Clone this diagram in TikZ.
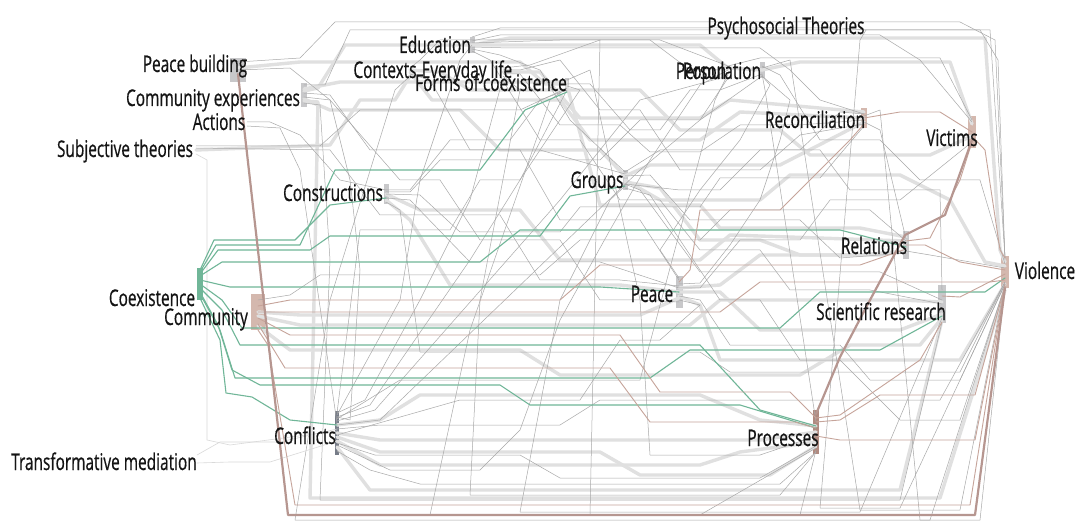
\documentclass[tikz,border=0pt]{standalone}
\usepackage{fontspec}
\setmainfont{Open Sans}
\newfontfamily\lblfont{Open Sans}[FakeBold=0.7]
\definecolor{grn}{RGB}{112,182,152}
\definecolor{brn}{RGB}{198,164,154}
\definecolor{brd}{RGB}{182,150,144}
\definecolor{barg}{RGB}{200,200,202}
\definecolor{barb}{RGB}{212,184,174}
\definecolor{bard}{RGB}{118,124,136}
\definecolor{barp}{RGB}{176,138,128}

\begin{document}
\begin{tikzpicture}[x=1pt,y=-1pt,line cap=round,line join=round,
  lbl/.style={font=\lblfont\fontsize{23}{23}\selectfont,text=black!92,anchor=base,inner sep=0pt,xscale=0.67},
  bar/.style={draw=none,inner sep=0pt},
  band/.style={draw=black!12,line width=3.4pt},
  wire/.style={draw=black!34,line width=0.5pt},
  faint/.style={draw=black!15,line width=0.6pt},
  gwire/.style={draw=grn,line width=1.1pt},
  bwire/.style={draw=brn,line width=0.9pt},
  bband/.style={draw=brd,line width=2.2pt}]
  \fill[white] (0,0) rectangle (1076,529);
  \useasboundingbox (0,0) rectangle (1076,529);
  % 端口条
  \foreach \nm/\x/\y/\w/\h/\cl in {pb/238/70/16/24/barg, cexp/304/95/6/24/barg, act/247/122/2/4/none,
    subj/196/150/2/4/none, constr/386/194/5/20/barg, edu/472/45/5/16/barg, ctx/410/72/2/4/none,
    ev/503/72/2/4/none, forms/567/84/4/12/barg, person/728/70/2/4/none, popu/762/70/5/16/barg,
    psych/866/30/2/4/none, groups/625/180/5/20/barg, recon/864/118/6/20/barb, vict/972/132/8/32/barb,
    rel/906/245/6/28/barg, viol/1005/272/8/32/barb, coex/200/284/6/32/grn, comm/258/312/14/36/barb,
    peace/679/292/7/32/barg, sci/942/304/8/38/barg, confl/337/433/4/44/bard, proc/816/432/6/44/barp,
    trans/197/463/2/4/none}
    \node[bar,fill=\cl,minimum width=\w,minimum height=\h] (\nm) at (\x,\y) {};
  % 灰色宽带
  \foreach \fr/\fo/\via/\dn/\dno in {cexp/4/{318/88,345/45,700/45,728/68}/popu/0,
    pb/2/{300/62,520/62,545/84}/forms/0, edu/0/{510/38,985/38,1000/250}/viol/10,
    ctx/0/{432/100,560/100,590/140,700/140,740/112}/recon/0, cexp/-4/{330/110,460/110,500/150,600/150}/groups/4,
    groups/0/{660/200,760/200,790/175,900/175,950/200,985/262}/viol/6,
    constr/0/{420/210,520/210,560/260,700/260,730/235}/rel/4, confl/0/{380/440,760/440}/proc/0,
    confl/-8/{380/465,700/465,740/452}/proc/-10, subj/0/{330/145,360/100,395/100}/ctx/-4,
    comm/0/{300/315,640/315}/peace/-6, peace/0/{720/292,760/330,900/330}/sci/-10,
    popu/0/{800/62,950/62}/vict/8, confl/-14/{370/490,900/490}/sci/-16, groups/4/{650/165,780/165}/recon/-4,
    forms/-2/{600/205,700/205,720/228,860/228}/rel/8, peace/-4/{700/305,720/360,960/360}/viol/-12,
    ev/0/{540/72,580/118,700/118,730/100}/recon/6,
    ctx/2/{440/72,470/90,640/90,680/130,780/130,810/155,930/155}/vict/-4,
    groups/-2/{660/188,700/240,760/240,800/255,880/255}/rel/-6,
    comm/-4/{300/325,690/325,720/300,900/300}/sci/2, confl/8/{380/420,420/395,700/395,760/420}/proc/6,
    cexp/6/{340/82,540/82}/forms/2, comm/-14/{290/350,520/350,560/375,800/375,850/345,920/345}/sci/-14,
    peace/4/{720/285,760/255,860/255}/rel/-6, confl/-4/{380/452,600/452,640/475,770/475}/proc/-14,
    constr/-6/{410/220,450/285,620/285}/peace/0, cexp/-6/{318/102,310/498,940/498}/viol/-18}
    {\draw[band] ([yshift=\fo]\fr.center) \foreach \px/\py in \via {-- (\px,\py)} -- ([yshift=\dno]\dn.center);}
  % 细线
  \foreach \fr/\fo/\via/\dn/\dno in {pb/8/{300/58,335/22,960/22,995/40}/viol/14,
    cexp/10/{325/85,350/30,980/30,998/60}/viol/12, edu/4/{500/35,880/35,920/60}/vict/10,
    edu/-2/{510/48,760/48,790/70,820/100}/recon/4, ctx/4/{420/60,440/40,650/40,690/70}/person/0,
    ev/-2/{520/74,560/125,620/125,650/152,700/152,740/125,800/125}/recon/-2,
    forms/0/{590/84,630/130,660/130,690/90,720/90}/popu/-4, cexp/2/{330/95,370/150,540/150}/groups/6,
    subj/4/{320/146,360/110,520/110}/forms/-4, act/0/{270/122,300/135,340/180}/constr/4,
    constr/4/{410/190,450/140,510/140,540/100}/forms/-6, constr/-4/{410/200,470/262,600/262}/peace/4,
    groups/4/{650/175,690/220,800/220,840/258}/rel/-8, groups/-4/{640/190,700/272,880/272}/sci/4,
    peace/4/{700/288,740/240,800/240,830/200,900/200}/vict/-10,
    peace/-4/{700/300,730/345,840/345,870/380,960/380}/viol/-12,
    popu/4/{780/75,820/140,880/140,920/180,980/180}/viol/8, popu/-4/{765/90}/proc/10,
    person/-4/{715/100,640/380,400/380}/confl/14, edu/0/{460/60,420/180,400/300}/confl/18,
    forms/-4/{550/100,470/330,430/515,800/515}/proc/-18, ctx/-4/{395/90,330/300,295/520,930/520}/viol/-14,
    groups/-6/{610/200,560/300,520/512,860/512}/sci/-14, edu/-4/{500/55,540/70,570/120}/groups/8,
    ev/4/{530/65,600/40,660/40}/person/4, confl/20/{365/400,420/300,470/200}/ev/-6,
    confl/16/{370/405,470/260,520/180}/forms/-6, confl/12/{375/410,560/200,640/100}/person/-6,
    confl/8/{380/420,640/170,700/120}/popu/-6, confl/4/{380/425,560/425,600/400,940/400}/viol/-10,
    confl/-10/{375/455,520/455,560/478,760/478}/proc/-14, confl/-18/{370/470,420/484,780/484}/proc/-20,
    comm/12/{290/295,320/275,540/275,580/240,700/240,730/210,870/210}/rel/4, act/-4/{280/128,300/170}/confl/10,
    peace/8/{700/283,730/245,760/200,780/140,790/100}/popu/-6, rel/-6/{930/255}/viol/4,
    recon/-4/{880/130}/rel/6, constr/0/{420/195,460/232,560/232,580/207,700/207,720/178,820/178}/recon/-8,
    cexp/-8/{320/105,330/260,320/500,900/500}/sci/-18, pb/0/{290/68,330/100,350/180,360/270,350/420}/confl/16,
    person/4/{760/58,940/58}/vict/12, groups/8/{660/150,820/150,850/190,940/190}/sci/14,
    edu/2/{560/40,600/40,590/515,700/515}/proc/-16, psych/0/{860/40,820/508,900/508}/viol/-12,
    popu/2/{790/60,860/510,960/510}/viol/-12, recon/2/{880/110,920/520,980/520}/viol/-14,
    edu/8/{500/28,840/28}/psych/0, psych/0/{990/30}/viol/14,
    constr/-8/{400/210,420/352,700/352,730/372,960/372}/viol/-10,
    forms/4/{590/70,640/300,650/455,760/455}/proc/-4, ev/-4/{520/90,480/300,470/495,780/495}/proc/-20,
    ctx/-2/{430/80,470/150,520/150,560/220,640/220}/peace/12,
    ev/2/{520/70,560/60,600/110,640/110,680/170,760/170,800/135}/recon/-6,
    forms/-2/{580/90,520/180,480/180,450/230,360/230}/confl/20,
    cexp/-2/{330/100,400/180,440/180,480/240,560/240,600/300,640/300}/peace/-10,
    constr/2/{410/192,440/160,600/160,640/120,700/120}/person/-8,
    peace/-8/{700/305,660/340,620/340,580/400,460/400}/confl/-2,
    subj/2/{330/150,380/215,500/215,540/280,620/280}/peace/6,
    groups/-8/{650/195,720/300,760/300,800/360,840/360,900/420,960/420}/viol/-14,
    edu/-6/{490/60,540/140,580/140,620/200,660/200,700/250,760/250,790/290,870/290}/sci/0,
    popu/-6/{770/85,740/140,700/190,660/250}/peace/14,
    person/0/{700/85,650/160,610/230,560/320,520/430,480/470,390/470}/confl/-12,
    recon/4/{840/112,800/150,760/150,720/190,680/190}/groups/-4}
    {\draw[wire] ([yshift=\fo]\fr.center) \foreach \px/\py in \via {-- (\px,\py)} -- ([yshift=\dno]\dn.center);}
  \foreach \fr/\fo/\via/\dn/\dno in {subj/-4/{207/160,207/440,230/445}/confl/2,
    trans/8/{220/442,280/442}/confl/4, trans/0/{230/462,270/462}/confl/-8}
    {\draw[faint] ([yshift=\fo]\fr.center) \foreach \px/\py in \via {-- (\px,\py)} -- ([yshift=\dno]\dn.center);}
  % 绿色连线
  \foreach \fr/\fo/\via/\dn/\dno in {coex/14/{214/240,295/240,330/205}/constr/-4,
    coex/12/{216/245,300/245,335/170,480/170,525/110}/forms/-8,
    coex/10/{218/250,310/250,330/236,540/236,570/196}/groups/-6, coex/4/{230/287,600/287}/peace/0,
    coex/0/{222/300,242/328,780/328,820/292,985/292}/viol/-6,
    coex/-4/{222/310,240/345,700/345,760/410}/proc/6,
    coex/-10/{220/330,235/378,650/378,690/350,880/350}/sci/-12,
    coex/-14/{220/340,226/393,252/397,290/420}/confl/8,
    coex/-8/{218/325,232/370,260/385,500/385,530/405,740/405}/proc/4,
    coex/8/{222/262,480/262,520/230,840/230}/rel/-2}
    {\draw[gwire] ([yshift=\fo]\fr.center) \foreach \px/\py in \via {-- (\px,\py)} -- ([yshift=\dno]\dn.center);}
  % 棕色连线
  \foreach \fr/\fo/\via/\dn/\dno in {comm/6/{290/300,560/300,600/265,860/265}/rel/-4,
    comm/0/{300/312,720/312,760/282,990/282}/viol/-8, comm/-6/{290/335,620/335,660/392,790/392}/proc/14,
    comm/-12/{285/368,610/368,650/422,795/422}/proc/4, comm/-18/{268/345,295/505,970/505}/viol/-12,
    recon/0/{900/112,940/112}/vict/0, recon/-6/{850/140,780/210,700/210,690/270}/peace/10,
    rel/4/{930/238,960/180}/vict/-10, proc/-4/{840/440,975/440}/viol/-16,
    proc/10/{840/420,880/395,975/395}/viol/-14, proc/14/{840/415,920/360}/sci/-18,
    sci/8/{960/297}/viol/-2, rel/0/{925/245,960/262}/viol/2, vict/-4/{985/150,1000/250}/viol/14}
    {\draw[bwire] ([yshift=\fo]\fr.center) \foreach \px/\py in \via {-- (\px,\py)} -- ([yshift=\dno]\dn.center);}
  \foreach \fr/\fo/\via/\dn/\dno in {vict/-8/{945/215,905/235,870/300,840/357,822/400}/proc/18,
    pb/-4/{288/515,975/515}/viol/-16}
    {\draw[bband] ([yshift=\fo]\fr.center) \foreach \px/\py in \via {-- (\px,\py)} -- ([yshift=\dno]\dn.center);}
  % 标签
  \foreach \nm/\x/\y/\txt in {pb/195/72/Peace building, edu/435/53/Education, ctx/385/78/Contexts,
    ev/467/78/Everyday life, forms/491/91/Forms of coexistence, person/701/79/Person,
    popu/722/79/Population, psych/786/34/Psychosocial Theories, cexp/213/106/Community experiences,
    act/219/130/Actions, subj/125/157/Subjective theories, constr/333/201/Constructions,
    groups/597/188/Groups, recon/815/128/Reconciliation, vict/952/146/Victims, rel/874/254/Relations,
    viol/1045/279/Violence, coex/152/306/Coexistence, comm/206/325/Community, peace/652/302/Peace,
    sci/881/320/Scientific research, confl/305/444/Conflicts, proc/783/446/Processes,
    trans/104/470/Transformative mediation}
    \node[lbl] (\nm-lbl) at (\x,\y) {\txt};
\end{tikzpicture}
\end{document}
